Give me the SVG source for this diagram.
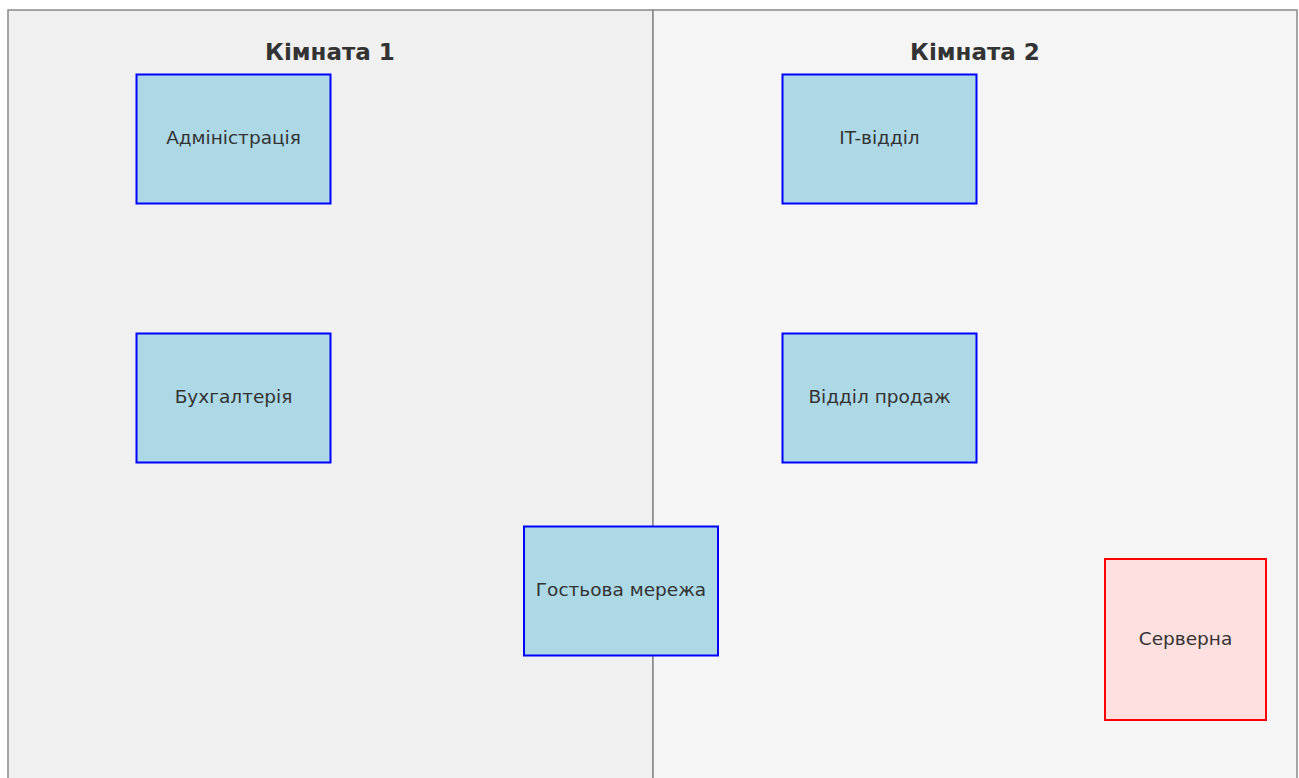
<svg xmlns="http://www.w3.org/2000/svg" width="1299" height="778" viewBox="0 0 1299 778">
<style>
.room{stroke:#888;stroke-width:1.5}
.title{font-family:"DejaVu Sans",sans-serif;font-size:23px;font-weight:bold;fill:#333;text-anchor:middle}
.node{fill:#add8e6;stroke:#0000ff;stroke-width:2}
.srv{fill:#ffe0e0;stroke:#ff0000;stroke-width:2}
.lbl{font-family:"DejaVu Sans",sans-serif;font-size:18.5px;fill:#333;text-anchor:middle;dominant-baseline:central}
</style>
<rect width="1299" height="778" fill="#ffffff"/>
<g id="room1">
<rect class="room" x="8" y="10" width="645" height="790" fill="#f0f0f0"/>
<text class="title" x="330" y="60">Кімната 1</text>
</g>
<g id="room2">
<rect class="room" x="653" y="10" width="644" height="790" fill="#f5f5f5"/>
<text class="title" x="975" y="60">Кімната 2</text>
</g>
<g id="connectors"></g>
<g id="admin"><rect class="node" x="136.5" y="74.5" width="194" height="129"/><text class="lbl" x="233.5" y="137">Адміністрація</text></g>
<g id="buh"><rect class="node" x="136.5" y="333.5" width="194" height="129"/><text class="lbl" x="233.5" y="396">Бухгалтерія</text></g>
<g id="it"><rect class="node" x="782.5" y="74.5" width="194" height="129"/><text class="lbl" x="879.5" y="137">IT-відділ</text></g>
<g id="sales"><rect class="node" x="782.5" y="333.5" width="194" height="129"/><text class="lbl" x="879.5" y="396">Відділ продаж</text></g>
<g id="guest"><rect class="node" x="524" y="526.5" width="194" height="129"/><text class="lbl" x="621" y="589">Гостьова мережа</text></g>
<g id="server"><rect class="srv" x="1105" y="559" width="161" height="161"/><text class="lbl" x="1185.5" y="638">Серверна</text></g>
</svg>
